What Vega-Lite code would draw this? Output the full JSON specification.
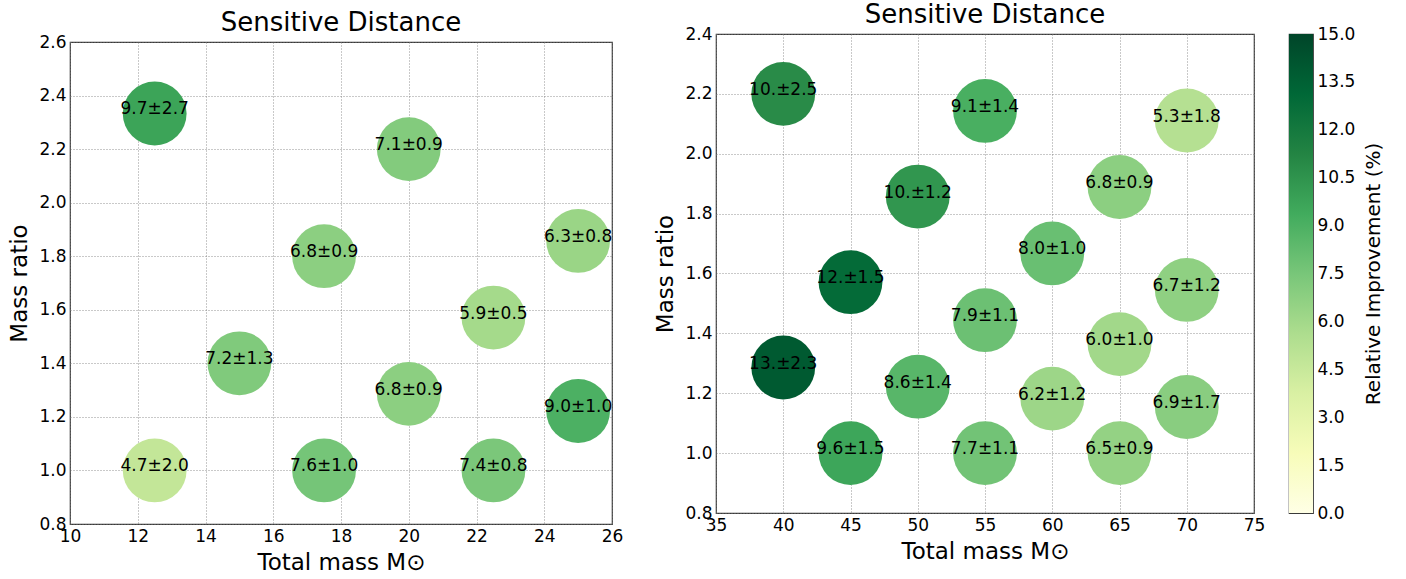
{
  "$schema": "https://vega.github.io/schema/vega-lite/v6.json",
  "background": "white",
  "padding": {"left": 8, "top": 1, "right": 5, "bottom": 5},
  "spacing": 30,
  "datasets": {
    "left": [
      {"m": 12.5, "q": 2.333, "v": 9.7, "label": "9.7±2.7"},
      {"m": 20, "q": 2.2, "v": 7.1, "label": "7.1±0.9"},
      {"m": 17.5, "q": 1.8, "v": 6.8, "label": "6.8±0.9"},
      {"m": 25, "q": 1.857, "v": 6.3, "label": "6.3±0.8"},
      {"m": 22.5, "q": 1.571, "v": 5.9, "label": "5.9±0.5"},
      {"m": 15, "q": 1.4, "v": 7.2, "label": "7.2±1.3"},
      {"m": 20, "q": 1.286, "v": 6.8, "label": "6.8±0.9"},
      {"m": 25, "q": 1.222, "v": 9.0, "label": "9.0±1.0"},
      {"m": 12.5, "q": 1.0, "v": 4.7, "label": "4.7±2.0"},
      {"m": 17.5, "q": 1.0, "v": 7.6, "label": "7.6±1.0"},
      {"m": 22.5, "q": 1.0, "v": 7.4, "label": "7.4±0.8"}
    ],
    "right": [
      {"m": 40, "q": 2.2, "v": 10.9, "label": "10.±2.5"},
      {"m": 55, "q": 2.143, "v": 9.1, "label": "9.1±1.4"},
      {"m": 70, "q": 2.111, "v": 5.3, "label": "5.3±1.8"},
      {"m": 50, "q": 1.857, "v": 10.4, "label": "10.±1.2"},
      {"m": 65, "q": 1.889, "v": 6.8, "label": "6.8±0.9"},
      {"m": 60, "q": 1.667, "v": 8.0, "label": "8.0±1.0"},
      {"m": 45, "q": 1.571, "v": 12.9, "label": "12.±1.5"},
      {"m": 70, "q": 1.545, "v": 6.7, "label": "6.7±1.2"},
      {"m": 55, "q": 1.444, "v": 7.9, "label": "7.9±1.1"},
      {"m": 65, "q": 1.364, "v": 6.0, "label": "6.0±1.0"},
      {"m": 40, "q": 1.286, "v": 13.9, "label": "13.±2.3"},
      {"m": 50, "q": 1.222, "v": 8.6, "label": "8.6±1.4"},
      {"m": 60, "q": 1.182, "v": 6.2, "label": "6.2±1.2"},
      {"m": 70, "q": 1.154, "v": 6.9, "label": "6.9±1.7"},
      {"m": 45, "q": 1.0, "v": 9.6, "label": "9.6±1.5"},
      {"m": 55, "q": 1.0, "v": 7.7, "label": "7.7±1.1"},
      {"m": 65, "q": 1.0, "v": 6.5, "label": "6.5±0.9"}
    ],
    "cbar": [{"lo": 0, "hi": 15}]
  },
  "hconcat": [
    {
      "spacing": -26,
      "vconcat": [
        {
          "width": 542,
          "height": 1,
          "data": {"values": []},
          "mark": {"type": "rect"},
          "encoding": {},
          "view": {"stroke": null}
        },
        {
          "width": 542,
          "height": 482,
          "title": {"text": "Sensitive Distance"},
          "data": {"name": "left"},
          "encoding": {
            "x": {"field": "m", "type": "quantitative", "scale": {"domain": [10, 26], "nice": false, "zero": false},
                  "axis": {"values": [10, 12, 14, 16, 18, 20, 22, 24, 26], "title": "Total mass M⊙"}},
            "y": {"field": "q", "type": "quantitative", "scale": {"domain": [0.8, 2.6], "nice": false, "zero": false},
                  "axis": {"values": [0.8, 1.0, 1.2, 1.4, 1.6, 1.8, 2.0, 2.2, 2.4, 2.6], "format": ".1f", "title": "Mass ratio"}}
          },
          "layer": [
            {"mark": {"type": "circle", "size": 4070, "opacity": 1},
             "encoding": {"color": {"field": "v", "type": "quantitative",
               "scale": {"domain": [0, 15], "range": ["#ffffe5", "#f7fcb9", "#d9f0a3", "#addd8e", "#78c679", "#41ab5d", "#238443", "#006837", "#004529"], "interpolate": "rgb"},
               "legend": null}}},
            {"mark": {"type": "text", "fontSize": 17, "baseline": "alphabetic", "dy": 1, "color": "black"},
             "encoding": {"text": {"field": "label"}}}
          ]
        }
      ]
    },
    {
      "spacing": 22,
      "hconcat": [
        {
          "width": 538,
          "height": 479,
          "title": {"text": "Sensitive Distance"},
          "data": {"name": "right"},
          "encoding": {
            "x": {"field": "m", "type": "quantitative", "scale": {"domain": [35, 75], "nice": false, "zero": false},
                  "axis": {"values": [35, 40, 45, 50, 55, 60, 65, 70, 75], "title": "Total mass M⊙"}},
            "y": {"field": "q", "type": "quantitative", "scale": {"domain": [0.8, 2.4], "nice": false, "zero": false},
                  "axis": {"values": [0.8, 1.0, 1.2, 1.4, 1.6, 1.8, 2.0, 2.2, 2.4], "format": ".1f", "title": "Mass ratio"}}
          },
          "layer": [
            {"mark": {"type": "circle", "size": 4070, "opacity": 1},
             "encoding": {"color": {"field": "v", "type": "quantitative",
               "scale": {"domain": [0, 15], "range": ["#ffffe5", "#f7fcb9", "#d9f0a3", "#addd8e", "#78c679", "#41ab5d", "#238443", "#006837", "#004529"], "interpolate": "rgb"},
               "legend": null}}},
            {"mark": {"type": "text", "fontSize": 17, "baseline": "alphabetic", "dy": 1, "color": "black"},
             "encoding": {"text": {"field": "label"}}}
          ]
        },
        {
          "width": 24,
          "height": 479,
          "data": {"name": "cbar"},
          "mark": {"type": "rect", "color": {"gradient": "linear", "x1": 0, "y1": 1, "x2": 0, "y2": 0,
            "stops": [
              {"offset": 0, "color": "#ffffe5"}, {"offset": 0.125, "color": "#f7fcb9"}, {"offset": 0.25, "color": "#d9f0a3"},
              {"offset": 0.375, "color": "#addd8e"}, {"offset": 0.5, "color": "#78c679"}, {"offset": 0.625, "color": "#41ab5d"},
              {"offset": 0.75, "color": "#238443"}, {"offset": 0.875, "color": "#006837"}, {"offset": 1, "color": "#004529"}]}},
          "encoding": {
            "y": {"field": "lo", "type": "quantitative", "scale": {"domain": [0, 15], "nice": false},
                  "axis": {"orient": "right", "grid": false, "values": [0, 1.5, 3, 4.5, 6, 7.5, 9, 10.5, 12, 13.5, 15], "format": ".1f",
                           "title": "Relative Improvement (%)", "titleAngle": 270, "titleBaseline": "top", "titleFontSize": 20, "titlePadding": 9}},
            "y2": {"field": "hi"}
          }
        }
      ]
    }
  ],
  "config": {
    "font": "DejaVu Sans",
    "view": {"stroke": "#3a3a3a", "strokeWidth": 1.2},
    "axis": {"domain": false, "ticks": false, "labelFontSize": 17, "labelColor": "black", "labelFont": "DejaVu Sans",
             "titleFont": "DejaVu Sans", "titleFontSize": 23, "titleFontWeight": "normal", "titleColor": "black",
             "gridColor": "#777", "gridDash": [1, 2], "gridWidth": 0.8, "labelFlush": false, "labelOverlap": false,
             "labelPadding": 4, "titlePadding": 7},
    "title": {"fontSize": 26, "fontWeight": "normal", "font": "DejaVu Sans", "color": "black", "baseline": "alphabetic", "offset": -3, "anchor": "middle"}
  }
}
